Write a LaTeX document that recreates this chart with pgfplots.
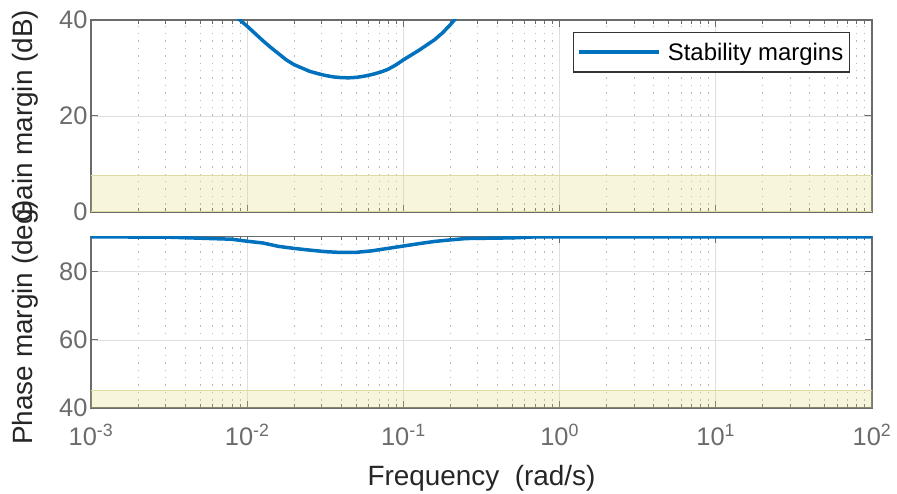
\documentclass[border=0pt]{standalone}
\usepackage{pgfplots}
\pgfplotsset{compat=1.18}
\usepackage{fontspec}
\setmainfont{Liberation Sans}
\definecolor{mblue}{rgb}{0,0.447,0.741}
\definecolor{axgray}{rgb}{0.42,0.42,0.42}
\definecolor{bandfill}{RGB}{223,219,119}
\definecolor{bandedge}{RGB}{222,218,160}
\pgfplotsset{
  legend image code/.code={\draw[#1] (0bp,0bp) -- (80bp,0bp);},
}
\begin{document}
\begin{tikzpicture}
\useasboundingbox (0,0) rectangle (897bp,494bp);
% ---- Gain margin ----
\begin{axis}[scale only axis, width=781bp, height=192bp,
  at={(91bp,282bp)}, anchor=south west,
  xmode=log, xmin=1e-3, xmax=1e2,
  xtick={1e-3,1e-2,1e-1,1,10,100}, xticklabels={},
  grid=both,
  major grid style={line width=0.8bp, black!13},
  minor grid style={line width=1bp, black!28, dash pattern=on 1.4bp off 6bp},
  axis line style={line width=1.3bp, axgray},
  every tick/.style={line width=1bp, axgray},
  major tick length=7bp, minor tick length=4bp,
  tick label style={font=\fontsize{25.5}{30}\selectfont, text=axgray},
  label style={font=\fontsize{28}{33}\selectfont, text=black!85},
  ymin=0, ymax=40, ytick={0,20,40},
  yticklabel style={/pgf/number format/assume math mode=true},
  ylabel={Gain margin (dB)},
  ylabel style={at={(rel axis cs:-0.0845,0.5)}, anchor=center},
  legend style={at={(rel axis cs:0.9718,0.94)}, anchor=north east,
    draw=black!80, line width=1.4bp, fill=white,
    font=\fontsize{24}{28}\selectfont, inner xsep=4bp, inner ysep=8.5bp,
    /tikz/every odd column/.append style={column sep=5bp}},
  legend cell align=left,
]
\addplot[forget plot, draw=bandedge, line width=1bp, fill=bandfill, fill opacity=0.25]
  coordinates {(1e-3,0) (1e2,0) (1e2,7.7) (1e-3,7.7)} \closedcycle;
\addplot[mblue, line width=3.5bp] coordinates {
(0.007943,41.6) (0.008913,40.1) (0.01,38.7) (0.01122,37.2) (0.01259,35.7)
(0.01413,34.3) (0.01585,33.0) (0.01778,31.7) (0.01995,30.7) (0.02239,30.0)
(0.02512,29.3) (0.02818,28.85) (0.03162,28.45) (0.03548,28.15) (0.03981,28.0)
(0.04467,27.95) (0.05012,28.05) (0.05623,28.3) (0.0631,28.65) (0.07079,29.1)
(0.07943,29.7) (0.08913,30.6) (0.1,31.7) (0.1122,32.7) (0.1259,33.7)
(0.1413,34.8) (0.1585,35.9) (0.1778,37.3) (0.1995,39.0) (0.2239,40.9)
(0.2512,42.8)};
\addlegendentry{Stability margins}
\end{axis}
% ---- Phase margin ----
\begin{axis}[scale only axis, width=781bp, height=171.5bp,
  at={(91bp,86bp)}, anchor=south west,
  xmode=log, xmin=1e-3, xmax=1e2,
  xtick={1e-3,1e-2,1e-1,1,10,100},
  xticklabels={10\textsuperscript{-3},10\textsuperscript{-2},10\textsuperscript{-1},10\textsuperscript{0},10\textsuperscript{1},10\textsuperscript{2}},
  xticklabel style={yshift=-13bp},
  grid=both,
  major grid style={line width=0.8bp, black!13},
  minor grid style={line width=1bp, black!28, dash pattern=on 1.4bp off 6bp},
  axis line style={line width=1.3bp, axgray},
  every tick/.style={line width=1bp, axgray},
  major tick length=7bp, minor tick length=4bp,
  tick label style={font=\fontsize{25.5}{30}\selectfont, text=axgray},
  label style={font=\fontsize{28}{33}\selectfont, text=black!85},
  ymin=40, ymax=90.4, ytick={40,60,80},
  yticklabel style={/pgf/number format/assume math mode=true},
  xlabel={Frequency\ \ (rad/s)},
  xlabel style={at={(rel axis cs:0.5,-0.41)}, anchor=center},
  ylabel={Phase margin (deg)},
  ylabel style={at={(rel axis cs:-0.0845,0.5)}, anchor=center},
]
\addplot[draw=bandedge, line width=1bp, fill=bandfill, fill opacity=0.25]
  coordinates {(1e-3,40) (1e2,40) (1e2,45) (1e-3,45)} \closedcycle;
\addplot[mblue, line width=3.5bp] coordinates {
(0.001,90.3) (0.003162,90.2) (0.005012,89.9) (0.007943,89.6) (0.01,89.0)
(0.01259,88.5) (0.01585,87.5) (0.01995,86.9) (0.02512,86.4) (0.03162,85.95)
(0.03981,85.7) (0.05012,85.75) (0.0631,86.2) (0.07943,86.9) (0.1,87.6)
(0.1259,88.3) (0.1585,88.95) (0.1995,89.4) (0.2512,89.8) (0.5012,90.0)
(0.7079,90.3) (100,90.3)};
\end{axis}
\end{tikzpicture}
\end{document}
